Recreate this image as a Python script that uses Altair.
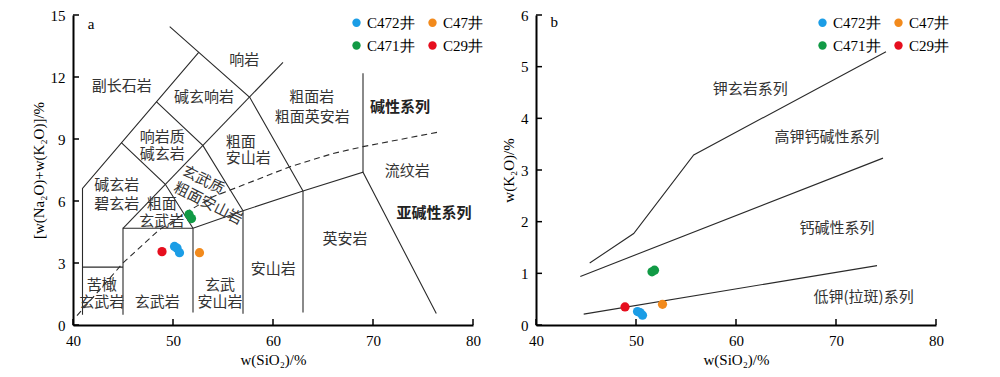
import altair as alt
import pandas as pd

# ---------------- data ----------------
wells = ["C472井", "C47井", "C471井", "C29井"]
well_colors = ["#1B9DE6", "#F28A1C", "#119A45", "#E60E1E"]

sio2_c472 = [50.15, 50.4, 50.65]
alk_c472 = [3.80, 3.72, 3.50]
k2o_c472 = [0.26, 0.24, 0.19]
sio2_c47 = [52.65]
alk_c47 = [3.50]
k2o_c47 = [0.40]
sio2_c471 = [51.6, 51.85]
alk_c471 = [5.35, 5.15]
k2o_c471 = [1.03, 1.06]
sio2_c29 = [48.9]
alk_c29 = [3.55]
k2o_c29 = [0.35]

# TAS boundaries (SiO2, Na2O+K2O)
tas_l1 = [(40.95, 0.5), (40.95, 6.61), (52.57, 13.19)]
tas_l2 = [(40.95, 2.8), (45, 2.8)]
tas_l3 = [(45, 0.5), (45, 4.68), (52, 4.68), (57, 5.53), (63, 6.48), (69, 7.39), (76.33, 0.56)]
tas_l4 = [(52, 0.6), (52, 4.68)]
tas_l5 = [(57, 0.55), (57, 5.53)]
tas_l6 = [(63, 0.6), (63, 6.48)]
tas_l7 = [(69, 7.39), (69, 12.18)]
tas_l8 = [(45, 4.68), (61, 12.71)]
tas_l9 = [(52, 4.68), (49.23, 6.81), (44.83, 8.82)]
tas_l10 = [(57, 5.53), (53, 8.68), (48.33, 10.81)]
tas_l11 = [(63, 6.48), (57.67, 11.02), (49.67, 14.44)]
tas_dash = [(40.4, 0.45), (45, 3.0), (48.6, 4.6), (51.7, 5.56), (54, 6.21), (57, 6.77),
            (61.7, 7.66), (66, 8.3), (69, 8.63), (76.7, 9.35)]

# K2O-SiO2 boundaries
k_shosh = [(45.37, 1.2), (49.77, 1.77), (55.77, 3.29), (75, 5.29)]
k_high = [(44.43, 0.94), (74.7, 3.23)]
k_low = [(44.77, 0.21), (74.1, 1.15)]

# labels
tas_labels = ["副长石岩", "响岩", "碱玄响岩", "粗面岩", "粗面英安岩", "响岩质", "碱玄岩", "粗面", "安山岩",
              "流纹岩", "碱玄岩", "碧玄岩", "粗面", "玄武岩", "英安岩", "安山岩", "苦橄", "玄武岩",
              "玄武岩", "玄武", "安山岩"]
tas_label_x = [44.87, 57.13, 53.1, 63.87, 63.93, 48.93, 48.93, 56.77, 57.53,
               73.43, 44.37, 44.37, 48.87, 48.87, 67.2, 60.03, 42.87, 42.87,
               48.43, 54.7, 54.7]
tas_label_y = [11.56, 12.82, 11.05, 11.05, 10.08, 9.08, 8.27, 8.87, 8.07,
               7.47, 6.77, 5.85, 5.85, 5.05, 4.15, 2.7, 1.94, 1.1,
               1.1, 1.94, 1.1]
tas_bold = ["碱性系列", "亚碱性系列"]
tas_bold_x = [72.7, 76.1]
tas_bold_y = [10.53, 5.4]
tas_rot = ["玄武质", "粗面安山岩"]
tas_rot_x = [53.03, 53.53]
tas_rot_y = [7.02, 5.89]

k_labels = ["钾玄岩系列", "高钾钙碱性系列", "钙碱性系列", "低钾(拉斑)系列"]
k_label_x = [61.43, 69.1, 70.1, 72.76]
k_label_y = [4.56, 3.64, 1.87, 0.55]

x_ticks = [40, 50, 60, 70, 80]
tas_y_ticks = [0, 3, 6, 9, 12, 15]
k_y_ticks = [0, 1, 2, 3, 4, 5, 6]

W, H = 400, 310
SERIF = "Liberation Serif"
CJK = "Noto Sans CJK SC"
LINE = "#2a2a2a"


def lines_df(segs):
    rows = []
    for name, pts in segs.items():
        for i, (x, y) in enumerate(pts):
            rows.append({"seg": name, "i": i, "x": x, "y": y})
    return pd.DataFrame(rows)


def points_df(yvals):
    rows = []
    groups = [(wells[0], sio2_c472, yvals[0]), (wells[1], sio2_c47, yvals[1]),
              (wells[2], sio2_c471, yvals[2]), (wells[3], sio2_c29, yvals[3])]
    for w, xs, ys in groups:
        for x, y in zip(xs, ys):
            rows.append({"well": w, "x": x, "y": y})
    return pd.DataFrame(rows)


def axis(title, values, title_pad=4):
    return alt.Axis(title=title, values=values, ticks=False, grid=False,
                    domainWidth=2, domainColor="black",
                    labelFont=SERIF, labelFontSize=15, labelColor="black", labelPadding=8,
                    labelFlush=False, titleFont=SERIF, titleFontSize=15,
                    titleFontWeight="normal", titleColor="black", titlePadding=title_pad)


def panel(ydomain, yticks, ytitle, segs, dashed, pts, labels, bold, rot, letter, letter_xy, legend_x):
    xs = alt.Scale(domain=[40, 80], nice=False, zero=False)
    ys = alt.Scale(domain=ydomain, nice=False, zero=False)
    xa = axis("w(SiO₂)/%", x_ticks)
    ya = axis(ytitle, yticks)
    X = lambda: alt.X("x:Q", scale=xs, axis=xa)
    Y = lambda: alt.Y("y:Q", scale=ys, axis=ya)

    layers = [alt.Chart(lines_df(segs)).mark_line(color=LINE, strokeWidth=1.1).encode(
        x=X(), y=Y(), detail="seg:N", order="i:Q")]
    if dashed is not None:
        layers.append(alt.Chart(lines_df({"d": dashed})).mark_line(
            color=LINE, strokeWidth=1.1, strokeDash=[6, 4]).encode(
            x=X(), y=Y(), detail="seg:N", order="i:Q"))
    # inward ticks
    layers.append(alt.Chart(pd.DataFrame({"x": x_ticks})).mark_rule(color="black", strokeWidth=1.5).encode(
        x=X(), y=alt.value(H), y2=alt.value(H - 6)))
    layers.append(alt.Chart(pd.DataFrame({"y": yticks})).mark_rule(color="black", strokeWidth=1.5).encode(
        y=Y(), x=alt.value(0), x2=alt.value(6)))
    # labels
    lt, lx, ly = labels
    layers.append(alt.Chart(pd.DataFrame({"t": lt, "x": lx, "y": ly})).mark_text(
        font=CJK, fontSize=15, color="#333").encode(x=X(), y=Y(), text="t:N"))
    if bold is not None:
        bt, bx, by = bold
        layers.append(alt.Chart(pd.DataFrame({"t": bt, "x": bx, "y": by})).mark_text(
            font=CJK, fontSize=15, fontWeight="bold", color="#222").encode(x=X(), y=Y(), text="t:N"))
    if rot is not None:
        rt, rx, ry = rot
        layers.append(alt.Chart(pd.DataFrame({"t": rt, "x": rx, "y": ry})).mark_text(
            font=CJK, fontSize=15, color="#333", angle=27).encode(x=X(), y=Y(), text="t:N"))
    layers.append(alt.Chart(pd.DataFrame({"t": [letter], "x": [letter_xy[0]], "y": [letter_xy[1]]})).mark_text(
        font=SERIF, fontSize=15, color="black").encode(x=X(), y=Y(), text="t:N"))
    # points
    layers.append(alt.Chart(pts).mark_circle(size=85, opacity=1).encode(
        x=X(), y=Y(),
        color=alt.Color("well:N", scale=alt.Scale(domain=wells, range=well_colors),
                        legend=alt.Legend(orient="none", legendX=legend_x, legendY=0, columns=2,
                                          direction="horizontal", title=None,
                                          symbolType="circle", symbolSize=70, symbolStrokeWidth=0,
                                          symbolOpacity=1, labelFont=SERIF, labelFontSize=15,
                                          labelColor="black", labelOffset=3, rowPadding=7,
                                          columnPadding=10, padding=0))))
    return alt.layer(*layers).properties(width=W, height=H)


panel_a = panel([0, 15], tas_y_ticks, "[w(Na₂O)+w(K₂O)]/%",
                {"l1": tas_l1, "l2": tas_l2, "l3": tas_l3, "l4": tas_l4, "l5": tas_l5, "l6": tas_l6,
                 "l7": tas_l7, "l8": tas_l8, "l9": tas_l9, "l10": tas_l10, "l11": tas_l11},
                tas_dash, points_df([alk_c472, alk_c47, alk_c471, alk_c29]),
                (tas_labels, tas_label_x, tas_label_y), (tas_bold, tas_bold_x, tas_bold_y),
                (tas_rot, tas_rot_x, tas_rot_y), "a", (41.8, 14.55), 276)

panel_b = panel([0, 6], k_y_ticks, "w(K₂O)/%",
                {"s": k_shosh, "h": k_high, "l": k_low}, None,
                points_df([k2o_c472, k2o_c47, k2o_c471, k2o_c29]),
                (k_labels, k_label_x, k_label_y), None, None, "b", (41.83, 5.87), 279)

chart = alt.hconcat(panel_a, panel_b, spacing=17).resolve_scale(
    color="independent", x="independent", y="independent").resolve_legend(color="independent").properties(
    padding={"left": 31, "top": 8, "right": 5, "bottom": 5}, background="white"
).configure_view(stroke=None)

chart.save("out.html", embed_options={"renderer": "svg", "actions": False})
